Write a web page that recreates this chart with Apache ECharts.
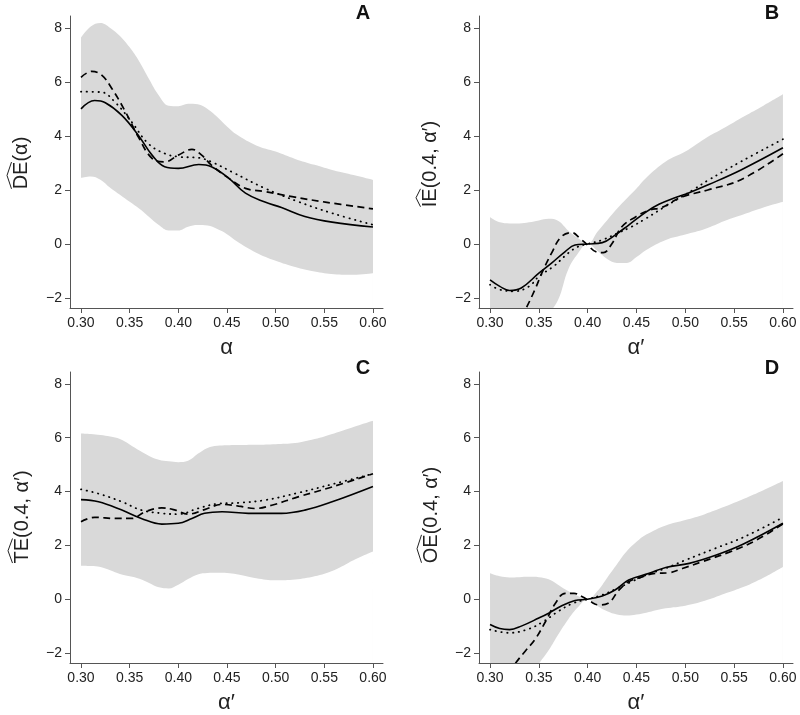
<!DOCTYPE html>
<html>
<head>
<meta charset="utf-8">
<script src="https://cdn.jsdelivr.net/npm/echarts@6/dist/echarts.min.js"></script>
<style>html,body{margin:0;padding:0;background:#fff}#c{width:800px;height:715px}</style>
</head>
<body>
<div id="c"></div>
<script>
// ---------- data ----------
const xTicks = [0.30, 0.35, 0.40, 0.45, 0.50, 0.55, 0.60];
const yTicks = [-2, 0, 2, 4, 6, 8];
const bandX = [0.30,0.31,0.32,0.33,0.34,0.35,0.36,0.37,0.38,0.39,0.40,0.41,0.42,0.43,0.44,0.45,0.46,0.48,0.50,0.52,0.54,0.56,0.58,0.60];

// Panel A: DE(alpha)
const A_upper = [7.64,8.05,8.18,8.0,7.7,7.28,6.75,6.1,5.5,5.12,5.1,5.19,5.17,5.0,4.7,4.35,4.05,3.65,3.42,3.15,2.93,2.72,2.55,2.37];
const A_lower = [2.45,2.5,2.38,2.08,1.82,1.56,1.3,1.0,0.7,0.5,0.5,0.64,0.7,0.68,0.55,0.36,0.1,-0.32,-0.62,-0.85,-1.02,-1.12,-1.14,-1.08];
const A_solid = [[0.30,5.0],[0.314,5.31],[0.325,5.23],[0.342,4.76],[0.359,4.02],[0.373,3.29],[0.386,2.86],[0.40,2.80],[0.421,2.94],[0.434,2.86],[0.452,2.43],[0.469,1.88],[0.489,1.55],[0.506,1.35],[0.53,1.02],[0.558,0.81],[0.60,0.63]];
const A_dashed = [[0.30,6.17],[0.311,6.39],[0.321,6.26],[0.332,5.74],[0.345,4.94],[0.359,3.96],[0.373,3.17],[0.386,3.04],[0.40,3.29],[0.414,3.5],[0.424,3.29],[0.434,2.92],[0.452,2.43],[0.469,2.06],[0.489,1.94],[0.517,1.75],[0.551,1.55],[0.60,1.3]];
const A_dotted = [[0.30,5.64],[0.321,5.62],[0.335,5.25],[0.352,4.52],[0.369,3.72],[0.386,3.35],[0.40,3.23],[0.421,3.19],[0.434,3.04],[0.455,2.67],[0.489,2.06],[0.523,1.57],[0.558,1.14],[0.60,0.71]];

// Panel B: IE(0.4, alpha')
const B_upper = [1.0,0.8,0.76,0.76,0.8,0.87,0.93,0.85,0.5,0.22,0.0,0.45,0.88,1.3,1.68,2.05,2.45,3.05,3.42,3.9,4.3,4.72,5.12,5.54];
const B_lower = [-6.0,-5.6,-5.1,-4.5,-3.8,-3.1,-2.6,-2.05,-0.95,-0.35,0.0,-0.25,-0.56,-0.7,-0.7,-0.48,-0.22,0.15,0.35,0.55,0.85,1.1,1.35,1.56];
const B_solid = [[0.30,-1.33],[0.31,-1.57],[0.32,-1.72],[0.332,-1.63],[0.35,-1.08],[0.363,-0.71],[0.377,-0.28],[0.387,-0.04],[0.40,0],[0.415,0.05],[0.428,0.33],[0.442,0.7],[0.46,1.19],[0.473,1.47],[0.49,1.72],[0.504,1.9],[0.524,2.2],[0.557,2.74],[0.60,3.56]];
const B_dashed = [[0.30,-5.0],[0.32,-3.6],[0.336,-2.45],[0.346,-1.69],[0.353,-1.08],[0.363,-0.34],[0.373,0.27],[0.384,0.42],[0.392,0.21],[0.40,-0.04],[0.408,-0.28],[0.416,-0.32],[0.425,0.02],[0.435,0.64],[0.449,1.0],[0.463,1.25],[0.476,1.35],[0.495,1.72],[0.523,2.0],[0.557,2.38],[0.60,3.34]];
const B_dotted = [[0.30,-1.51],[0.31,-1.69],[0.325,-1.75],[0.34,-1.57],[0.35,-1.2],[0.365,-0.83],[0.38,-0.34],[0.39,-0.1],[0.40,0],[0.415,0.15],[0.43,0.39],[0.445,0.64],[0.46,0.95],[0.48,1.4],[0.495,1.72],[0.51,2.05],[0.523,2.35],[0.557,3.05],[0.60,3.88]];

// Panel C: TE(0.4, alpha')
const C_upper = [6.16,6.14,6.1,6.04,5.95,5.75,5.52,5.32,5.18,5.12,5.09,5.14,5.4,5.62,5.7,5.72,5.73,5.74,5.76,5.8,5.95,6.16,6.4,6.63];
const C_lower = [1.24,1.23,1.2,1.08,0.94,0.85,0.76,0.6,0.44,0.4,0.54,0.75,0.92,0.97,0.98,0.97,0.93,0.78,0.7,0.73,0.85,1.08,1.45,1.77];
const C_solid = [[0.30,3.70],[0.318,3.62],[0.342,3.31],[0.362,3.0],[0.383,2.79],[0.40,2.82],[0.414,3.0],[0.427,3.19],[0.445,3.25],[0.472,3.19],[0.506,3.19],[0.53,3.31],[0.558,3.62],[0.60,4.19]];
const C_dashed = [[0.30,2.88],[0.314,3.04],[0.335,3.0],[0.352,3.0],[0.366,3.25],[0.383,3.39],[0.397,3.31],[0.41,3.16],[0.427,3.33],[0.445,3.52],[0.462,3.46],[0.479,3.37],[0.496,3.49],[0.523,3.8],[0.558,4.17],[0.60,4.66]];
const C_dotted = [[0.30,4.08],[0.318,3.92],[0.342,3.62],[0.362,3.31],[0.383,3.19],[0.40,3.16],[0.42,3.37],[0.441,3.55],[0.462,3.58],[0.489,3.68],[0.523,3.95],[0.558,4.27],[0.60,4.66]];

// Panel D: OE(0.4, alpha')
const D_upper = [0.96,0.85,0.81,0.82,0.83,0.82,0.74,0.53,0.3,0.12,0.0,0.3,0.8,1.3,1.78,2.13,2.4,2.74,2.94,3.16,3.43,3.73,4.05,4.39];
const D_lower = [-5.0,-4.5,-4.0,-3.4,-2.9,-2.4,-1.9,-1.3,-0.75,-0.3,0.0,-0.25,-0.45,-0.57,-0.61,-0.57,-0.5,-0.34,-0.24,-0.06,0.2,0.46,0.8,1.2];
const D_solid = [[0.30,-0.94],[0.31,-1.09],[0.32,-1.13],[0.332,-1.0],[0.35,-0.7],[0.36,-0.52],[0.373,-0.25],[0.387,-0.05],[0.40,0],[0.415,0.12],[0.428,0.34],[0.442,0.71],[0.463,0.96],[0.48,1.18],[0.504,1.33],[0.531,1.63],[0.559,2.04],[0.60,2.82]];
const D_dashed = [[0.30,-4.3],[0.315,-3.2],[0.324,-2.5],[0.336,-1.93],[0.346,-1.5],[0.357,-0.82],[0.367,-0.15],[0.377,0.22],[0.386,0.22],[0.394,0.1],[0.403,-0.09],[0.411,-0.21],[0.421,-0.15],[0.432,0.34],[0.442,0.65],[0.456,0.83],[0.469,0.96],[0.483,0.98],[0.497,1.14],[0.517,1.39],[0.545,1.75],[0.572,2.18],[0.60,2.8]];
const D_dotted = [[0.30,-1.13],[0.32,-1.25],[0.34,-1.1],[0.355,-0.82],[0.37,-0.45],[0.385,-0.15],[0.40,0],[0.415,0.16],[0.43,0.4],[0.445,0.65],[0.46,0.9],[0.48,1.15],[0.50,1.45],[0.53,1.88],[0.56,2.31],[0.60,3.04]];

const panelLetters = ['A','B','C','D'];
const yTitles = [['DE','(α)'],['IE','(0.4, α′)'],['TE','(0.4, α′)'],['OE','(0.4, α′)']];
const xTitles = ['α','α′','α′','α′'];

// ---------- layout ----------
const FONT = '"Liberation Sans", Arial, sans-serif';
const grids = [
  {left:70, top:16, width:313, height:292},
  {left:479, top:16, width:314, height:292},
  {left:70, top:372, width:313, height:292},
  {left:479, top:372, width:314, height:292}
];
const panels = [
  {upper:A_upper, lower:A_lower, solid:A_solid, dashed:A_dashed, dotted:A_dotted},
  {upper:B_upper, lower:B_lower, solid:B_solid, dashed:B_dashed, dotted:B_dotted},
  {upper:C_upper, lower:C_lower, solid:C_solid, dashed:C_dashed, dotted:C_dotted},
  {upper:D_upper, lower:D_lower, solid:D_solid, dashed:D_dashed, dotted:D_dotted}
];

const xAxes = [], yAxes = [], series = [], graphics = [];
const axisCol = '#555';
panels.forEach((p, i) => {
  xAxes.push({
    type:'value', gridIndex:i, min:0.2887, max:0.6103, z:5,
    name:xTitles[i], nameLocation:'middle', nameGap:29,
    nameTextStyle:{fontSize:22, fontFamily:FONT, color:'#222'},
    splitLine:{show:false},
    axisLine:{onZero:false, lineStyle:{color:axisCol, width:1}},
    axisTick:{show:true, length:5, customValues:xTicks, lineStyle:{color:axisCol}},
    axisLabel:{customValues:xTicks, margin:8, fontSize:14, fontFamily:FONT, color:'#222',
      formatter:v => v.toFixed(2)}
  });
  yAxes.push({
    type:'value', gridIndex:i, min:-2.37, max:8.44, z:5,
    splitLine:{show:false},
    axisLine:{show:true, onZero:false, lineStyle:{color:axisCol, width:1}},
    axisTick:{show:true, length:5, customValues:yTicks, lineStyle:{color:axisCol}},
    axisLabel:{customValues:yTicks, margin:8, fontSize:14, fontFamily:FONT, color:'#222',
      formatter:v => (v < 0 ? '\u2212' + Math.abs(v) : String(v))}
  });
  const common = {xAxisIndex:i, yAxisIndex:i, symbol:'none', silent:true, animation:false, clip:true};
  series.push(Object.assign({}, common, {
    type:'line', smooth:0.4, z:1,
    data: bandX.map((x,k)=>[x, p.upper[k]]),
    lineStyle:{width:0, opacity:0},
    areaStyle:{color:'#d9d9d9', opacity:1, origin:'start'}
  }));
  series.push(Object.assign({}, common, {
    type:'line', smooth:0.4, z:1,
    data: bandX.map((x,k)=>[x, p.lower[k]]),
    lineStyle:{width:0, opacity:0},
    areaStyle:{color:'#ffffff', opacity:1, origin:'start'}
  }));
  series.push(Object.assign({}, common, {
    type:'line', smooth:0.4, z:3, data:p.dotted,
    lineStyle:{color:'#000', width:1.8, type:[0.4,5.4], cap:'round'}
  }));
  series.push(Object.assign({}, common, {
    type:'line', smooth:0.4, z:3, data:p.dashed,
    lineStyle:{color:'#000', width:1.7, type:[7,4.5]}
  }));
  series.push(Object.assign({}, common, {
    type:'line', smooth:0.4, z:4, data:p.solid,
    lineStyle:{color:'#000', width:1.6}
  }));
});

// y-axis titles with hat, and panel letters
const cvs = document.createElement('canvas').getContext('2d');
cvs.font = '20px ' + FONT;
const yTitlePos = [[21,163],[430,164],[22,517],[431,515]];
yTitles.forEach((t, i) => {
  const full = t[0] + t[1];
  const W = cvs.measureText(full).width;
  const wHat = cvs.measureText(t[0]).width;
  const x0 = -W/2, x1 = -W/2 + wHat;
  graphics.push({
    type:'group', x:yTitlePos[i][0], y:yTitlePos[i][1], rotation:Math.PI/2,
    children:[
      {type:'text', x:0, y:0, style:{text:full, font:'20px ' + FONT, fill:'#222', align:'center', verticalAlign:'middle'}},
      {type:'polyline', shape:{points:[[x0+0.5,-9.5],[(x0+x1)/2,-14],[x1-0.5,-9.5]]},
        style:{stroke:'#222', lineWidth:1, fill:null}}
    ]
  });
});
const letterPos = [[363,13],[772,13],[363,368],[772,368]];
panelLetters.forEach((L, i) => {
  graphics.push({type:'text', x:letterPos[i][0], y:letterPos[i][1],
    style:{text:L, font:'bold 20px ' + FONT, fill:'#111', align:'center', verticalAlign:'middle'}});
});

const chart = echarts.init(document.getElementById('c'), null, {renderer:'canvas'});
chart.setOption({
  animation:false,
  backgroundColor:'#fff',
  grid:grids,
  xAxis:xAxes,
  yAxis:yAxes,
  series:series,
  graphic:graphics
});
</script>
</body>
</html>
